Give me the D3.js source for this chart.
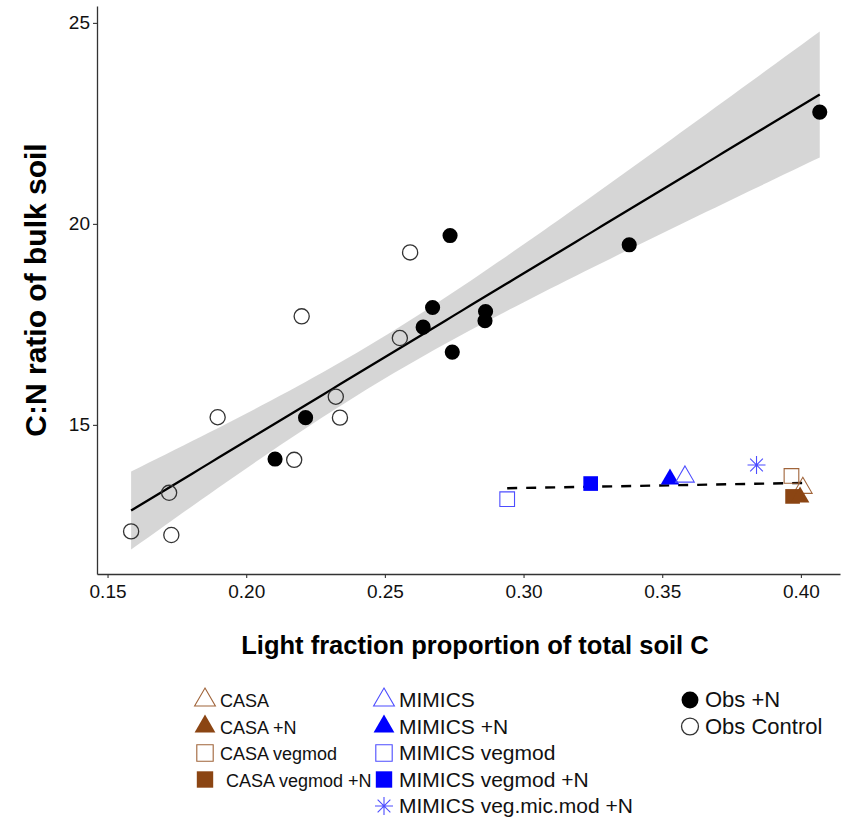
<!DOCTYPE html>
<html>
<head>
<meta charset="utf-8">
<script src="https://cdn.jsdelivr.net/npm/d3@7"></script>
<style>
  body { margin: 0; background: #fff; }
  svg { font-family: "Liberation Sans", Arial, sans-serif; }
</style>
</head>
<body>
<svg id="chart" width="843" height="821"></svg>
<script>
// observed points, light fraction proportion vs C:N
const obsControlX = [0.1585, 0.1722, 0.1730, 0.1897, 0.2173, 0.2200, 0.2323, 0.2338, 0.2554, 0.2591];
const obsControlY = [12.35, 13.31, 12.26, 15.19, 14.13, 17.70, 15.70, 15.18, 17.16, 19.29];
const obsNX = [0.2104, 0.2214, 0.2638, 0.2672, 0.2735, 0.2743, 0.2861, 0.2863, 0.3381, 0.4068];
const obsNY = [14.15, 15.18, 17.43, 17.92, 19.71, 16.81, 17.59, 17.82, 19.48, 22.78];

// model results
const modelNames = ["MIMICS vegmod", "MIMICS vegmod +N", "MIMICS +N", "MIMICS", "MIMICS veg.mic.mod +N",
  "CASA vegmod", "CASA", "CASA vegmod +N", "CASA +N"];
const modelX = [0.2941, 0.3242, 0.3528, 0.3582, 0.3840, 0.3966, 0.4007, 0.3970, 0.3997];
const modelY = [13.15, 13.54, 13.65, 13.71, 14.00, 13.73, 13.43, 13.22, 13.20];

const xTicks = [0.15, 0.20, 0.25, 0.30, 0.35, 0.40];
const yTicks = [15, 20, 25];

const legendCols = [
  ["CASA", "CASA +N", "CASA vegmod", "CASA vegmod +N"],
  ["MIMICS", "MIMICS +N", "MIMICS vegmod", "MIMICS vegmod +N", "MIMICS veg.mic.mod +N"],
  ["Obs +N", "Obs Control"]
];

const brown = "#8B4513";
const blue = "#0000FF";

// shape + fill per series name
const style = {
  "CASA": { shape: "triangle", color: brown, filled: false },
  "CASA +N": { shape: "triangle", color: brown, filled: true },
  "CASA vegmod": { shape: "square", color: brown, filled: false },
  "CASA vegmod +N": { shape: "square", color: brown, filled: true },
  "MIMICS": { shape: "triangle", color: blue, filled: false },
  "MIMICS +N": { shape: "triangle", color: blue, filled: true },
  "MIMICS vegmod": { shape: "square", color: blue, filled: false },
  "MIMICS vegmod +N": { shape: "square", color: blue, filled: true },
  "MIMICS veg.mic.mod +N": { shape: "star", color: blue, filled: false },
  "Obs +N": { shape: "circle", color: "#000", filled: true },
  "Obs Control": { shape: "circle", color: "#333", filled: false }
};

const svg = d3.select("#chart");

const x = d3.scaleLinear().domain([0.1462, 0.4141]).range([97, 840]);
const y = d3.scaleLinear().domain([11.29, 25.42]).range([574, 6]);

function linFit(xs, ys) {
  const n = xs.length;
  const mx = d3.mean(xs), my = d3.mean(ys);
  let sxx = 0, sxy = 0;
  for (let i = 0; i < n; i++) {
    sxx += (xs[i] - mx) ** 2;
    sxy += (xs[i] - mx) * (ys[i] - my);
  }
  const b = sxy / sxx, a = my - b * mx;
  let sse = 0;
  for (let i = 0; i < n; i++) sse += (ys[i] - a - b * xs[i]) ** 2;
  const s = Math.sqrt(sse / (n - 2));
  return { a, b, n, mx, sxx, s };
}

const asterisk = (() => {
  const r = 9, d = r * Math.SQRT1_2;
  return `M0,${-r}L0,${r}M${-r},0L${r},0M${-d},${-d}L${d},${d}M${-d},${d}L${d},${-d}`;
})();

function symbolPath(shape, k) {
  if (shape === "star") return asterisk;
  const type = shape === "triangle" ? d3.symbolTriangle : shape === "square" ? d3.symbolSquare : d3.symbolCircle;
  const size = shape === "triangle" ? 150 : shape === "square" ? 215 : 180;
  return d3.symbol().type(type).size(size * (k || 1))();
}

function drawMark(g, name, cx, cy, k) {
  const st = style[name];
  const p = g.append("path")
    .attr("d", symbolPath(st.shape, k))
    .attr("transform", `translate(${cx},${cy})`);
  if (st.filled) p.attr("fill", st.color);
  else p.attr("fill", "none").attr("stroke", st.color).attr("stroke-width", st.shape === "circle" ? 1.3 : 1.1);
  if (st.color === blue && !st.filled) p.attr("stroke", "#4d4dff");
  if (st.color === brown && !st.filled) p.attr("stroke", "#a0643a");
}

// regression of observations with 95% band
const allX = obsControlX.concat(obsNX);
const allY = obsControlY.concat(obsNY);
const fit = linFit(allX, allY);
const tq = 2.100922; // t(0.975, 18)
const grid = d3.range(80).map(i => d3.min(allX) + (d3.max(allX) - d3.min(allX)) * i / 79);
const band = grid.map(v => {
  const yh = fit.a + fit.b * v;
  const se = fit.s * Math.sqrt(1 / fit.n + (v - fit.mx) ** 2 / fit.sxx);
  return { v, yh, lo: yh - tq * se, hi: yh + tq * se };
});

svg.append("path")
  .datum(band)
  .attr("fill", "#999")
  .attr("fill-opacity", 0.4)
  .attr("d", d3.area().x(d => x(d.v)).y0(d => y(d.lo)).y1(d => y(d.hi)));

svg.append("path")
  .datum(band)
  .attr("fill", "none")
  .attr("stroke", "#000")
  .attr("stroke-width", 2.3)
  .attr("d", d3.line().x(d => x(d.v)).y(d => y(d.yh)));

// observation points
const pts = svg.append("g");
obsControlX.forEach((v, i) => drawMark(pts, "Obs Control", x(v), y(obsControlY[i])));
obsNX.forEach((v, i) => drawMark(pts, "Obs +N", x(v), y(obsNY[i])));

// dashed fit through model results
const mfit = linFit(modelX, modelY);
const mx0 = d3.min(modelX), mx1 = d3.max(modelX);
svg.append("path")
  .datum([mx0, mx1])
  .attr("fill", "none")
  .attr("stroke", "#000")
  .attr("stroke-width", 2.4)
  .attr("stroke-dasharray", "10,9")
  .attr("d", d3.line().x(d => x(d)).y(d => y(mfit.a + mfit.b * d)));

const mpts = svg.append("g");
modelNames.forEach((n, i) => drawMark(mpts, n, x(modelX[i]), y(modelY[i])));

// axes
const xAxis = svg.append("g")
  .attr("transform", "translate(0,574)")
  .call(d3.axisBottom(x).tickValues(xTicks).tickFormat(d3.format(".2f")).tickSize(4).tickSizeOuter(0));
const yAxis = svg.append("g")
  .attr("transform", "translate(97,0)")
  .call(d3.axisLeft(y).tickValues(yTicks).tickSize(4).tickSizeOuter(0));
[xAxis, yAxis].forEach(a => {
  a.attr("font-size", 19).attr("font-family", "Liberation Sans, Arial, sans-serif");
  a.select(".domain").attr("stroke", "#333").attr("stroke-width", 1.3);
  a.selectAll(".tick line").attr("stroke", "#333").attr("stroke-width", 1.1);
  a.selectAll(".tick text").attr("fill", "#111");
});
xAxis.selectAll(".tick text").attr("dy", "0.9em");

svg.append("text")
  .attr("x", 475).attr("y", 654)
  .attr("text-anchor", "middle")
  .attr("font-weight", "bold").attr("font-size", 25.5)
  .text("Light fraction proportion of total soil C");

svg.append("text")
  .attr("transform", "translate(46,290) rotate(-90)")
  .attr("text-anchor", "middle")
  .attr("font-weight", "bold").attr("font-size", 30)
  .text("C:N ratio of bulk soil");

// legend
const colX = [205, 384, 690];
const colFont = [18, 21, 22];
const leg = svg.append("g");
legendCols.forEach((col, c) => {
  col.forEach((name, r) => {
    const cy = 700 + r * 26.5;
    drawMark(leg, name, colX[c], cy, 1.25);
    leg.append("text")
      .attr("x", colX[c] + 15 + (name === "CASA vegmod +N" ? 6 : 0))
      .attr("y", cy + 7)
      .attr("font-size", colFont[c])
      .attr("fill", "#111")
      .text(name);
  });
});
</script>
</body>
</html>
